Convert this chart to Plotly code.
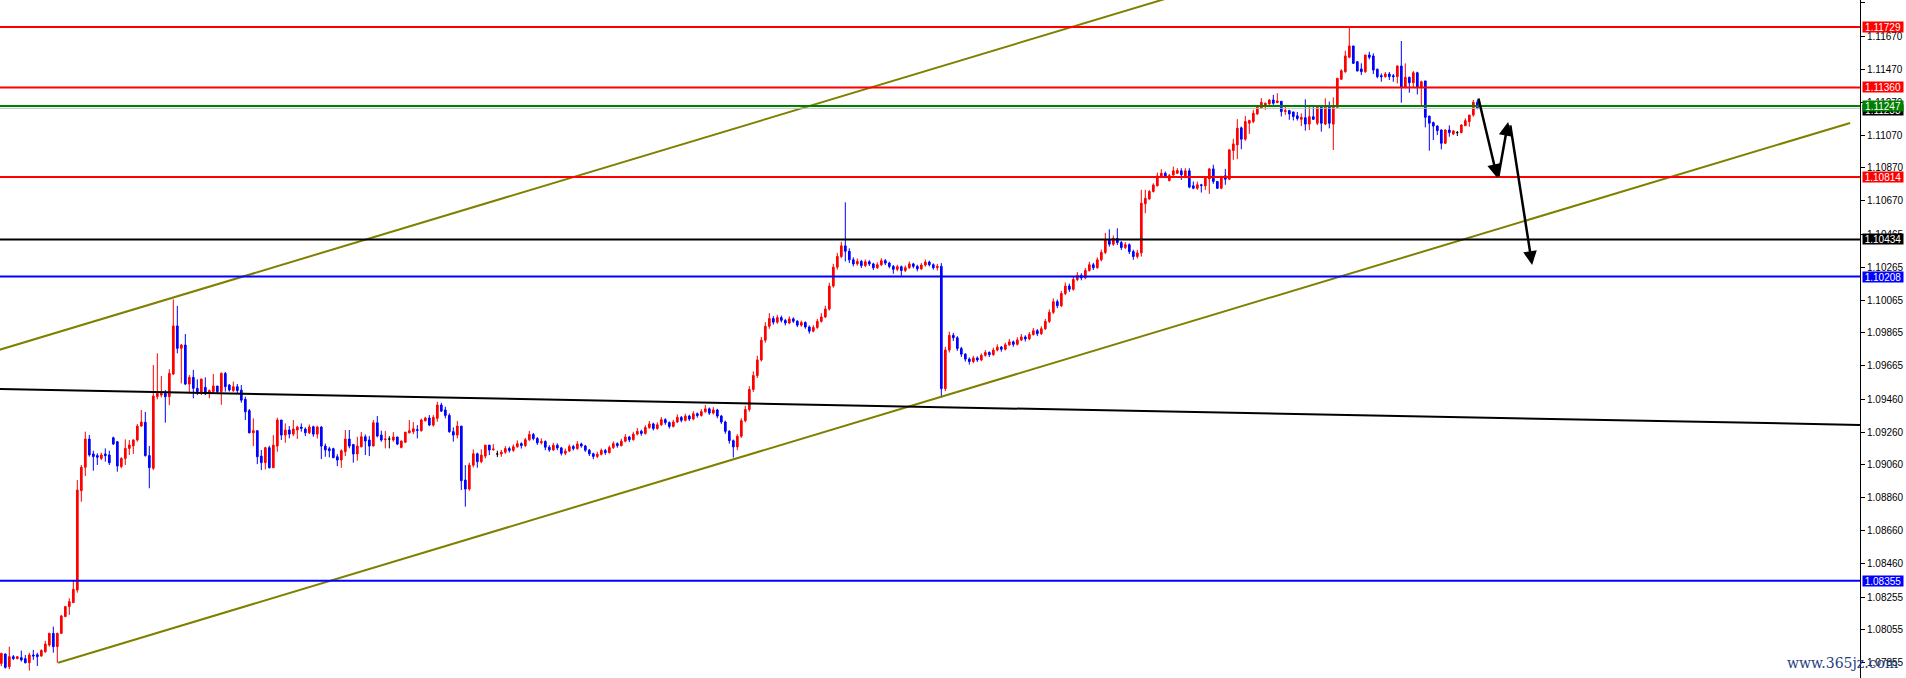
import plotly.graph_objects as go

# ---- candle data (hourly bars, left to right), three stretches ----
open_a = [1.07851,1.07908,1.07831,1.07892,1.07880,1.07886,1.07880,1.07855,1.07902,1.07904,
1.07896,1.07922,1.07963,1.08034,1.07953,1.08034,1.08136,1.08197,1.08221,1.08298,
1.08903,1.09046,1.09218,1.09127,1.09117,1.09100,1.09127,1.09121,1.09226,1.09202,
1.09050,1.09100,1.09161,1.09176,1.09212,1.09297,1.09320,1.09117,1.09040,1.09476,
1.09486,1.09496,1.09476,1.09614,1.09907,1.09771,1.09791,1.09553,1.09594,1.09527,
1.09496,1.09533,1.09496,1.09507,1.09541,1.09507,1.09618,1.09547,1.09513,1.09537,
1.09516,1.09460,1.09391,1.09256,1.09269,1.09114,1.09074,1.09165,1.09043,1.09175,
1.09334,1.09242,1.09273,1.09248,1.09273,1.09291,1.09279,1.09256,1.09293,1.09248,
1.09291,1.09175,1.09159,1.09159,1.09110,1.09090,1.09141,1.09218,1.09185,1.09127,
1.09171,1.09232,1.09212,1.09175,1.09317,1.09242,1.09214,1.09218,1.09212,1.09230,
1.09167,1.09198,1.09256,1.09263,1.09275,1.09269,1.09330,1.09346,1.09303,1.09344,
1.09425,1.09395,1.09362,1.09263,1.09242,1.09297,1.08968,1.08913,1.09059,1.09128,
1.09080,1.09114,1.09181,1.09153,1.09127]
high_a = [1.07916,1.07912,1.07953,1.07902,1.07896,1.07929,1.07902,1.07916,1.07933,1.07916,
1.07937,1.07989,1.08038,1.08075,1.08038,1.08146,1.08201,1.08247,1.08359,1.08968,
1.09060,1.09263,1.09243,1.09147,1.09131,1.09135,1.09161,1.09147,1.09232,1.09204,
1.09107,1.09216,1.09212,1.09216,1.09310,1.09395,1.09383,1.09176,1.09669,1.09740,
1.09602,1.09517,1.09643,1.10069,1.10029,1.09797,1.09858,1.09608,1.09639,1.09582,
1.09584,1.09594,1.09521,1.09614,1.09541,1.09624,1.09626,1.09553,1.09568,1.09553,
1.09547,1.09476,1.09401,1.09344,1.09269,1.09151,1.09171,1.09177,1.09242,1.09348,
1.09334,1.09313,1.09297,1.09334,1.09299,1.09313,1.09289,1.09307,1.09299,1.09299,
1.09297,1.09191,1.09171,1.09165,1.09126,1.09155,1.09273,1.09273,1.09185,1.09232,
1.09260,1.09246,1.09236,1.09334,1.09358,1.09269,1.09267,1.09236,1.09260,1.09232,
1.09208,1.09260,1.09334,1.09321,1.09303,1.09342,1.09354,1.09364,1.09364,1.09445,
1.09439,1.09415,1.09374,1.09289,1.09328,1.09297,1.09059,1.09074,1.09155,1.09135,
1.09155,1.09181,1.09181,1.09187,1.09147]
low_a = [1.07835,1.07819,1.07815,1.07872,1.07876,1.07862,1.07851,1.07807,1.07872,1.07835,
1.07892,1.07916,1.07953,1.07916,1.07855,1.08030,1.08136,1.08146,1.08221,1.08282,
1.08836,1.08993,1.09111,1.09025,1.09060,1.09090,1.09080,1.09060,1.09182,1.09019,
1.09040,1.09060,1.09121,1.09127,1.09202,1.09293,1.09111,1.08918,1.09029,1.09460,
1.09472,1.09318,1.09425,1.09608,1.09740,1.09557,1.09547,1.09496,1.09466,1.09486,
1.09486,1.09486,1.09466,1.09496,1.09492,1.09427,1.09507,1.09507,1.09505,1.09496,
1.09439,1.09334,1.09252,1.09175,1.09065,1.09029,1.09033,1.09039,1.09043,1.09141,
1.09212,1.09195,1.09222,1.09236,1.09218,1.09263,1.09236,1.09248,1.09232,1.09222,
1.09096,1.09110,1.09106,1.09104,1.09053,1.09043,1.09114,1.09161,1.09074,1.09086,
1.09167,1.09120,1.09114,1.09175,1.09228,1.09202,1.09161,1.09161,1.09202,1.09181,
1.09161,1.09198,1.09252,1.09248,1.09222,1.09263,1.09324,1.09297,1.09293,1.09324,
1.09384,1.09344,1.09256,1.09202,1.09222,1.08907,1.08806,1.08903,1.09045,1.09043,
1.09070,1.09100,1.09120,1.09147,1.09108]
close_a = [1.07912,1.07827,1.07892,1.07880,1.07892,1.07872,1.07855,1.07902,1.07896,1.07892,
1.07929,1.07969,1.08034,1.07953,1.08034,1.08140,1.08197,1.08227,1.08302,1.08907,
1.09046,1.09218,1.09121,1.09111,1.09107,1.09121,1.09117,1.09074,1.09188,1.09054,
1.09100,1.09161,1.09182,1.09212,1.09297,1.09322,1.09117,1.09044,1.09480,1.09496,
1.09496,1.09476,1.09618,1.09907,1.09771,1.09791,1.09553,1.09594,1.09527,1.09507,
1.09584,1.09492,1.09513,1.09541,1.09507,1.09618,1.09537,1.09517,1.09537,1.09513,
1.09455,1.09384,1.09256,1.09269,1.09110,1.09074,1.09165,1.09043,1.09181,1.09334,
1.09242,1.09273,1.09248,1.09279,1.09291,1.09283,1.09256,1.09291,1.09248,1.09291,
1.09175,1.09151,1.09147,1.09104,1.09090,1.09147,1.09218,1.09175,1.09127,1.09175,
1.09232,1.09206,1.09175,1.09317,1.09236,1.09212,1.09218,1.09218,1.09230,1.09187,
1.09206,1.09260,1.09269,1.09281,1.09271,1.09334,1.09346,1.09303,1.09350,1.09425,
1.09388,1.09362,1.09263,1.09242,1.09297,1.08964,1.08913,1.09059,1.09128,1.09080,
1.09120,1.09181,1.09151,1.09157,1.09127]

open_b = [1.09127,1.09138,1.09160,1.09149,1.09171,1.09190,1.09178,1.09214,1.09246,1.09221,
1.09195,1.09203,1.09168,1.09152,1.09180,1.09164,1.09131,1.09145,1.09172,1.09160,
1.09188,1.09176,1.09150,1.09128,1.09112,1.09125,1.09148,1.09135,1.09166,1.09190,
1.09178,1.09205,1.09230,1.09214,1.09248,1.09265,1.09252,1.09288,1.09310,1.09282,
1.09305,1.09336,1.09318,1.09295,1.09322,1.09350,1.09332,1.09358,1.09340,1.09372,
1.09361,1.09385,1.09402,1.09376,1.09395,1.09358,1.09322,1.09265,1.09208,1.09170,
1.09235,1.09330,1.09398,1.09520,1.09605,1.09700,1.09820,1.09905,1.09952,1.09930,
1.09958,1.09941,1.09925,1.09950,1.09936,1.09912,1.09928,1.09901,1.09875,1.09898,
1.09935,1.09962,1.10010,1.10150,1.10265,1.10330,1.10395,1.10362,1.10310,1.10285,
1.10300,1.10275,1.10298,1.10285,1.10262,1.10280,1.10305,1.10290,1.10270,1.10252,
1.10268,1.10245,1.10262,1.10285,1.10270,1.10255,1.10278,1.10296,1.10280,1.10262,
1.10270,1.09525,1.09760,1.09850,1.09835,1.09770,1.09735,1.09705,1.09690,1.09712,
1.09700,1.09728,1.09745,1.09732,1.09760,1.09778,1.09765,1.09792,1.09810,1.09795,
1.09822,1.09840,1.09828,1.09855,1.09878,1.09860,1.09890,1.09935,1.09990,1.10055,
1.10030,1.10105,1.10150,1.10130,1.10190,1.10215,1.10200,1.10245,1.10280,1.10262,
1.10310,1.10355,1.10430,1.10405,1.10440,1.10415,1.10385,1.10402,1.10360,1.10330,
1.10352,1.10651,1.10681,1.10726,1.10762,1.10817,1.10837,1.10793,1.10827,1.10837,
1.10852,1.10813,1.10852,1.10761,1.10746,1.10767,1.10761,1.10803,1.10864,1.10787,
1.10746,1.10822,1.10801,1.10976,1.11010,1.11114,1.11045,1.11142,1.11152,1.11199,
1.11234,1.11248,1.11260,1.11284,1.11268,1.11276,1.11213,1.11219,1.11211,1.11187]
high_b = [1.09152,1.09175,1.09172,1.09185,1.09210,1.09198,1.09225,1.09268,1.09255,1.09230,
1.09222,1.09210,1.09180,1.09195,1.09192,1.09170,1.09160,1.09185,1.09182,1.09205,
1.09196,1.09182,1.09158,1.09135,1.09140,1.09160,1.09158,1.09178,1.09204,1.09198,
1.09220,1.09248,1.09238,1.09262,1.09285,1.09275,1.09302,1.09328,1.09318,1.09320,
1.09352,1.09345,1.09325,1.09335,1.09368,1.09358,1.09372,1.09366,1.09388,1.09380,
1.09400,1.09425,1.09410,1.09412,1.09402,1.09365,1.09330,1.09272,1.09215,1.09248,
1.09345,1.09420,1.09540,1.09630,1.09725,1.09840,1.09930,1.09985,1.09968,1.09975,
1.09970,1.09950,1.09965,1.09960,1.09942,1.09940,1.09935,1.09910,1.09912,1.09950,
1.09985,1.10030,1.10170,1.10285,1.10352,1.10420,1.10660,1.10380,1.10325,1.10318,
1.10310,1.10312,1.10308,1.10292,1.10295,1.10320,1.10315,1.10298,1.10278,1.10280,
1.10275,1.10275,1.10300,1.10292,1.10280,1.10290,1.10312,1.10305,1.10288,1.10285,
1.10290,1.09780,1.09872,1.09865,1.09845,1.09780,1.09742,1.09715,1.09725,1.09722,
1.09740,1.09760,1.09752,1.09775,1.09795,1.09785,1.09805,1.09828,1.09818,1.09838,
1.09858,1.09850,1.09870,1.09895,1.09888,1.09905,1.09950,1.10008,1.10075,1.10068,
1.10120,1.10172,1.10165,1.10208,1.10235,1.10228,1.10260,1.10298,1.10292,1.10325,
1.10372,1.10474,1.10496,1.10458,1.10502,1.10425,1.10418,1.10410,1.10372,1.10370,
1.10736,1.10736,1.10736,1.10776,1.10841,1.10862,1.10848,1.10833,1.10878,1.10868,
1.10868,1.10868,1.10868,1.10787,1.10787,1.10773,1.10817,1.10868,1.10889,1.10787,
1.10822,1.10864,1.10984,1.11047,1.11167,1.11122,1.11187,1.11163,1.11224,1.11248,
1.11295,1.11268,1.11288,1.11315,1.11325,1.11276,1.11248,1.11223,1.11211,1.11211]
low_b = [1.09110,1.09128,1.09135,1.09140,1.09165,1.09160,1.09170,1.09205,1.09210,1.09182,
1.09185,1.09150,1.09140,1.09145,1.09150,1.09118,1.09120,1.09138,1.09148,1.09152,
1.09165,1.09140,1.09115,1.09095,1.09102,1.09118,1.09122,1.09130,1.09158,1.09165,
1.09172,1.09198,1.09200,1.09208,1.09240,1.09238,1.09245,1.09280,1.09270,1.09275,
1.09298,1.09305,1.09282,1.09288,1.09315,1.09320,1.09325,1.09328,1.09332,1.09348,
1.09355,1.09378,1.09365,1.09368,1.09345,1.09310,1.09250,1.09190,1.09105,1.09150,
1.09225,1.09320,1.09385,1.09505,1.09590,1.09690,1.09805,1.09890,1.09915,1.09920,
1.09928,1.09910,1.09918,1.09925,1.09900,1.09902,1.09890,1.09860,1.09868,1.09890,
1.09928,1.09955,1.10000,1.10140,1.10250,1.10320,1.10300,1.10290,1.10270,1.10275,
1.10260,1.10265,1.10272,1.10248,1.10255,1.10272,1.10278,1.10258,1.10225,1.10240,
1.10212,1.10235,1.10255,1.10258,1.10240,1.10248,1.10268,1.10270,1.10250,1.10245,
1.09470,1.09510,1.09745,1.09815,1.09755,1.09718,1.09690,1.09672,1.09680,1.09688,
1.09692,1.09720,1.09718,1.09725,1.09752,1.09750,1.09758,1.09785,1.09780,1.09788,
1.09815,1.09812,1.09820,1.09848,1.09845,1.09852,1.09882,1.09925,1.09980,1.10015,
1.10022,1.10095,1.10115,1.10122,1.10180,1.10185,1.10192,1.10238,1.10248,1.10255,
1.10300,1.10345,1.10390,1.10395,1.10400,1.10370,1.10375,1.10345,1.10310,1.10318,
1.10330,1.10594,1.10675,1.10720,1.10756,1.10813,1.10807,1.10787,1.10821,1.10833,
1.10797,1.10807,1.10746,1.10740,1.10736,1.10720,1.10736,1.10712,1.10773,1.10742,
1.10740,1.10767,1.10797,1.10919,1.10923,1.10984,1.11035,1.11077,1.11142,1.11193,
1.11230,1.11224,1.11254,1.11254,1.11264,1.11183,1.11193,1.11163,1.11159,1.11159]
close_b = [1.09138,1.09160,1.09149,1.09171,1.09190,1.09178,1.09214,1.09246,1.09221,1.09195,
1.09203,1.09168,1.09152,1.09180,1.09164,1.09131,1.09145,1.09172,1.09160,1.09188,
1.09176,1.09150,1.09128,1.09112,1.09125,1.09148,1.09135,1.09166,1.09190,1.09178,
1.09205,1.09230,1.09214,1.09248,1.09265,1.09252,1.09288,1.09310,1.09282,1.09305,
1.09336,1.09318,1.09295,1.09322,1.09350,1.09332,1.09358,1.09340,1.09372,1.09361,
1.09385,1.09402,1.09376,1.09395,1.09358,1.09322,1.09265,1.09208,1.09170,1.09235,
1.09330,1.09398,1.09520,1.09605,1.09700,1.09820,1.09905,1.09952,1.09930,1.09958,
1.09941,1.09925,1.09950,1.09936,1.09912,1.09928,1.09901,1.09875,1.09898,1.09935,
1.09962,1.10010,1.10150,1.10265,1.10330,1.10395,1.10362,1.10310,1.10285,1.10300,
1.10275,1.10298,1.10285,1.10262,1.10280,1.10305,1.10290,1.10270,1.10252,1.10268,
1.10245,1.10262,1.10285,1.10270,1.10255,1.10278,1.10296,1.10280,1.10262,1.10270,
1.09525,1.09760,1.09850,1.09835,1.09770,1.09735,1.09705,1.09690,1.09712,1.09700,
1.09728,1.09745,1.09732,1.09760,1.09778,1.09765,1.09792,1.09810,1.09795,1.09822,
1.09840,1.09828,1.09855,1.09878,1.09860,1.09890,1.09935,1.09990,1.10055,1.10030,
1.10105,1.10150,1.10130,1.10190,1.10215,1.10200,1.10245,1.10280,1.10262,1.10310,
1.10355,1.10430,1.10405,1.10440,1.10415,1.10385,1.10402,1.10360,1.10330,1.10352,
1.10655,1.10685,1.10726,1.10766,1.10821,1.10837,1.10817,1.10823,1.10852,1.10854,
1.10828,1.10852,1.10753,1.10746,1.10767,1.10763,1.10813,1.10864,1.10787,1.10746,
1.10818,1.10801,1.10980,1.11016,1.11112,1.11045,1.11152,1.11159,1.11203,1.11244,
1.11270,1.11264,1.11284,1.11264,1.11278,1.11213,1.11219,1.11199,1.11183,1.11171]

open_c = [1.11166,1.11176,1.11137,1.11182,1.11142,1.11247,1.11137,1.11243,1.11137,1.11239,
1.11410,1.11456,1.11544,1.11613,1.11517,1.11473,1.11456,1.11558,1.11552,1.11471,
1.11432,1.11426,1.11442,1.11432,1.11426,1.11491,1.11361,1.11422,1.11389,1.11450,
1.11361,1.11400,1.11186,1.11146,1.11125,1.11101,1.11020,1.11101,1.11077,1.11085,
1.11085,1.11127,1.11152,1.11192,1.11270]
high_c = [1.11202,1.11288,1.11247,1.11247,1.11247,1.11247,1.11294,1.11274,1.11300,1.11416,
1.11471,1.11584,1.11729,1.11613,1.11521,1.11507,1.11558,1.11578,1.11568,1.11475,
1.11446,1.11454,1.11454,1.11442,1.11495,1.11643,1.11507,1.11426,1.11460,1.11456,
1.11402,1.11400,1.11186,1.11152,1.11129,1.11105,1.11105,1.11129,1.11101,1.11095,
1.11137,1.11172,1.11192,1.11284,1.11284]
low_c = [1.11125,1.11097,1.11101,1.11162,1.11131,1.11091,1.11131,1.11111,1.10979,1.11233,
1.11406,1.11450,1.11538,1.11503,1.11460,1.11436,1.11450,1.11531,1.11442,1.11416,
1.11395,1.11420,1.11406,1.11395,1.11385,1.11267,1.11355,1.11328,1.11361,1.11318,
1.11253,1.11117,1.10975,1.11040,1.11070,1.10983,1.11016,1.11060,1.11070,1.11064,
1.11081,1.11125,1.11121,1.11182,1.11227]
close_c = [1.11178,1.11137,1.11182,1.11166,1.11247,1.11142,1.11243,1.11142,1.11243,1.11416,
1.11462,1.11552,1.11613,1.11507,1.11460,1.11456,1.11558,1.11544,1.11466,1.11426,
1.11426,1.11442,1.11426,1.11426,1.11491,1.11361,1.11422,1.11389,1.11450,1.11361,
1.11395,1.11178,1.11142,1.11125,1.11097,1.11020,1.11101,1.11085,1.11095,1.11085,
1.11131,1.11158,1.11192,1.11270,1.11233]

open_ = open_a + open_b + open_c
high = high_a + high_b + high_c
low = low_a + low_b + low_c
close = close_a + close_b + close_c

# ---- horizontal levels ----
level_prices = [1.11729, 1.11360, 1.11247, 1.10814, 1.10434, 1.10208, 1.08355]
level_colors = ["#FF0000", "#FF0000", "#008000", "#FF0000", "#000000", "#0000FF", "#0000FF"]
bid_price = 1.11233

# ---- trend lines: ([bar0, bar1], [price0, price1]) ----
channel_low = ([14.2, 462.2], [1.07855, 1.11144])
channel_high = ([-0.4, 300.0], [1.09762, 1.11966])
slope_line = ([-0.4, 464.7], [1.09523, 1.09304])

# ---- projection arrows: (bar_from, price_from, bar_to, price_to) ----
arrows = [(369.2, 1.11302, 374.0, 1.10809),
          (374.2, 1.10809, 376.7, 1.11150),
          (377.2, 1.11138, 382.7, 1.10279)]

# ---- price axis ticks ----
tick_vals = [1.11875, 1.11670, 1.11470, 1.11270, 1.11070, 1.10870, 1.10670, 1.10465,
             1.10265, 1.10065, 1.09865, 1.09665, 1.09460, 1.09260, 1.09060, 1.08860,
             1.08660, 1.08460, 1.08255, 1.08055, 1.07855]
tick_text = ["%.5f" % v for v in tick_vals]
y_range = [1.07762, 1.11893]
x_range = [-0.33, 464.67]

fig = go.Figure()

idx = list(range(len(open_)))
def subset(cond):
    xs, o, h, l, c = [], [], [], [], []
    for i in idx:
        if cond(open_[i], close[i]):
            xs.append(i); o.append(open_[i]); h.append(high[i]); l.append(low[i]); c.append(close[i])
    return xs, o, h, l, c

for cond, col in [(lambda a, b: b > a, "#FF0000"),
                  (lambda a, b: b < a, "#0000FF"),
                  (lambda a, b: b == a, "#000000")]:
    xs, o, h, l, c = subset(cond)
    fig.add_trace(go.Candlestick(
        x=xs, open=o, high=h, low=l, close=c,
        increasing=dict(line=dict(color=col, width=1), fillcolor=col),
        decreasing=dict(line=dict(color=col, width=1), fillcolor=col),
        whiskerwidth=0, hoverinfo="skip", showlegend=False))

for xs, ys, col in [(channel_low[0], channel_low[1], "#808000"),
                    (channel_high[0], channel_high[1], "#808000"),
                    (slope_line[0], slope_line[1], "#000000")]:
    fig.add_trace(go.Scatter(x=xs, y=ys, mode="lines",
                             line=dict(color=col, width=2), hoverinfo="skip", showlegend=False))

shapes = [dict(type="line", xref="paper", yref="y", x0=0, x1=1, y0=bid_price, y1=bid_price,
               line=dict(color="#C0C0C0", width=1), layer="above")]
for p, col in zip(level_prices, level_colors):
    shapes.append(dict(type="line", xref="paper", yref="y", x0=0, x1=1, y0=p, y1=p,
                       line=dict(color=col, width=2), layer="above"))

annotations = []
label_font = dict(family="Liberation Sans", size=10, color="#FFFFFF")
annotations.append(dict(xref="paper", yref="y", x=1, y=bid_price, xanchor="left", xshift=2,
                        yshift=-2, text="%.5f" % bid_price, showarrow=False, bgcolor="#000000",
                        font=label_font, width=40, height=10, borderpad=0))
for p, col in zip(level_prices, level_colors):
    annotations.append(dict(xref="paper", yref="y", x=1, y=p, xanchor="left", xshift=2,
                            text="%.5f" % p, showarrow=False, bgcolor=col,
                            font=label_font, width=40, height=10, borderpad=0))
for (x0, y0, x1, y1) in arrows:
    annotations.append(dict(x=x1, y=y1, ax=x0, ay=y0, xref="x", yref="y", axref="x", ayref="y",
                            showarrow=True, arrowhead=2, arrowsize=1.1, arrowwidth=2.5,
                            arrowcolor="#000000", standoff=0, text=""))
annotations.append(dict(xref="paper", yref="paper", x=1.0215, y=0, xanchor="right",
                        yanchor="bottom", yshift=5, text="www.365jz.com", showarrow=False,
                        font=dict(family="DejaVu Serif", size=14, color="#1F3F7F")))

fig.update_layout(
    width=1906, height=678,
    margin=dict(l=0, r=46, t=0, b=0),
    paper_bgcolor="#FFFFFF", plot_bgcolor="#FFFFFF",
    shapes=shapes, annotations=annotations,
    boxgap=0.4,
    xaxis=dict(range=x_range, visible=False, rangeslider=dict(visible=False), fixedrange=True),
    yaxis=dict(range=y_range, side="right", tickvals=tick_vals, ticktext=tick_text,
               ticks="outside", ticklen=4, tickcolor="#000000", showline=True,
               linecolor="#000000", linewidth=1, showgrid=False, zeroline=False,
               tickfont=dict(family="Liberation Sans", size=10, color="#000000")),
)

fig.write_html("out.html", config={"displayModeBar": False},
               post_script="document.body.style.margin='0';document.body.style.overflow='hidden';")
